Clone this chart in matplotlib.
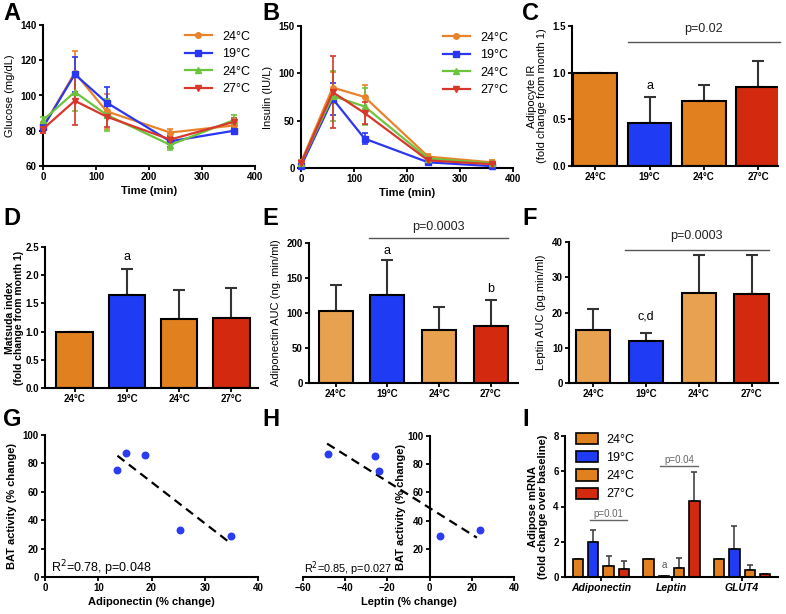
import numpy as np
import matplotlib
matplotlib.use("Agg")
import matplotlib.pyplot as plt
from matplotlib.lines import Line2D

plt.rcParams['font.family'] = ['Liberation Sans', 'DejaVu Sans']

W, H = 786, 614

# ---- data ----
times = [0, 60, 120, 240, 360]
groups = ['24°C', '19°C', '24°C', '27°C']

glu_mean = {
    'o': [82, 113, 91, 79, 83],
    'b': [82, 112, 96, 74, 80],
    'g': [86, 102, 89, 72, 86],
    'r': [81, 97, 88, 75, 85],
}
glu_err = {
    'o': [3, 12, 10, 2, 3],
    'b': [2, 10, 9, 3, 2],
    'g': [2, 11, 9, 3, 3],
    'r': [2, 14, 6, 2, 2],
}
ins_mean = {
    'o': [6, 85, 75, 12, 6],
    'b': [2, 73, 31, 6, 2],
    'g': [5, 76, 65, 10, 5],
    'r': [5, 80, 58, 8, 4],
}
ins_err = {
    'o': [2, 16, 13, 3, 2],
    'b': [1, 17, 6, 2, 1],
    'g': [2, 26, 20, 3, 2],
    'r': [2, 38, 12, 3, 2],
}

ir_vals = [1.0, 0.46, 0.70, 0.85]
ir_err = [0, 0.28, 0.17, 0.27]
matsuda_vals = [1.0, 1.65, 1.22, 1.25]
matsuda_err = [0, 0.46, 0.51, 0.52]
adipo_auc = [103, 126, 76, 81]
adipo_auc_err = [37, 50, 33, 38]
leptin_auc = [15.0, 12.0, 25.6, 25.2]
leptin_auc_err = [6.0, 2.3, 10.7, 11.0]

adipo_pct = [13.6, 15.3, 18.7, 25.3, 35.0]
bat_g = [75.5, 87.3, 85.8, 33.4, 28.8]
leptin_pct = [-48.3, -26.0, -23.8, 5.0, 23.7]
bat_h = [87.3, 85.8, 75.4, 28.8, 33.4]

genes = ['Adiponectin', 'Leptin', 'GLUT4']
mrna = [
    [1.0, 1.0, 1.0],     # 24°C
    [1.98, 0.07, 1.61],  # 19°C
    [0.64, 0.50, 0.42],  # 24°C
    [0.47, 4.31, 0.15],  # 27°C
]
mrna_err = [
    [0, 0, 0],
    [0.70, 0, 1.26],
    [0.55, 0.56, 0.28],
    [0.44, 1.64, 0],
]

# ---- colours ----
LC = {'o': '#E8832C', 'b': '#2A36F2', 'g': '#6DC43C', 'r': '#D8372C'}
ORANGE = '#E0801F'
LORANGE = '#E8A24F'
BLUE = '#1F3CF4'
RED = '#D2290F'
markers = {'o': 'o', 'b': 's', 'g': '^', 'r': 'v'}
line_labels = {'o': '24°C', 'b': '19°C', 'g': '24°C', 'r': '27°C'}

fig = plt.figure(figsize=(W / 100, H / 100), dpi=100)
fig.patch.set_facecolor('white')


def add_ax(l, t, r, b):
    return fig.add_axes([l / W, 1 - b / H, (r - l) / W, (b - t) / H])


def style(ax):
    for s in ['top', 'right']:
        ax.spines[s].set_visible(False)
    for s in ['left', 'bottom']:
        ax.spines[s].set_linewidth(1.5)
    ax.tick_params(width=1.3, length=3, labelsize=7, pad=1.5)
    for lab in ax.get_xticklabels() + ax.get_yticklabels():
        lab.set_fontweight('bold')


def letter(x, y, s):
    fig.text(x / W, 1 - y / H, s, fontsize=17, fontweight='bold', va='top', ha='left')


# ---- A / B line charts ----
def line_panel(ax, means, errs):
    handles = []
    for k in ['o', 'b', 'g', 'r']:
        ax.errorbar(times, means[k], yerr=errs[k], color=LC[k], marker=markers[k],
                    markersize=4, lw=1.6, capsize=2, elinewidth=1.2, capthick=1.2,
                    clip_on=False, zorder=3)
        handles.append(Line2D([], [], color=LC[k], marker=markers[k], markersize=4,
                              lw=1.6, label=line_labels[k]))
    ax.set_xlim(0, 400)
    ax.set_xticks([0, 100, 200, 300, 400])
    ax.set_xlabel('Time (min)', fontsize=8, fontweight='bold', labelpad=3)
    ax.legend(handles=handles, loc='upper right', frameon=False, fontsize=9,
              handlelength=2.2, labelspacing=0.45, bbox_to_anchor=(1.03, 1.04))


axA = add_ax(43, 25, 255, 166)
line_panel(axA, glu_mean, glu_err)
axA.set_ylim(60, 140)
axA.set_yticks([60, 80, 100, 120, 140])
axA.set_ylabel('Glucose (mg/dL)', fontsize=8)
style(axA)

axB = add_ax(301, 26, 513, 168)
line_panel(axB, ins_mean, ins_err)
axB.set_ylim(0, 150)
axB.set_yticks([0, 50, 100, 150])
axB.set_ylabel('Insulin (IU/L)', fontsize=8)
style(axB)


# ---- bar panels ----
def bar_panel(ax, vals, errs, colors, width, xlim):
    x = np.arange(len(vals))
    ax.bar(x, vals, width=width, color=colors, edgecolor='black', linewidth=1.5, zorder=2)
    up = [e if e > 0 else np.nan for e in errs]
    ax.errorbar(x, vals, yerr=[np.zeros(len(vals)), np.nan_to_num(up)], fmt='none',
                ecolor='#333333', elinewidth=1.5, capsize=4.5, capthick=1.5, zorder=1)
    ax.set_xticks(x)
    ax.set_xticklabels(groups)
    ax.set_xlim(*xlim)


def pline(ax, x0, x1, y, ty, text, size=9, color='#555555'):
    ax.plot([x0, x1], [y, y], color=color, lw=1.0, clip_on=False)
    ax.text((x0 + x1) / 2, ty, text, ha='center', va='center', fontsize=size,
            color='#222222' if color == '#555555' else color, clip_on=False)


axC = add_ax(572, 26, 778, 166)
bar_panel(axC, ir_vals, ir_err, [ORANGE, BLUE, ORANGE, RED], 0.81, (-0.43, 3.37))
axC.set_ylim(0, 1.5)
axC.set_yticks([0, 0.5, 1.0, 1.5])
axC.set_yticklabels(['0.0', '0.5', '1.0', '1.5'])
axC.set_ylabel('Adipocyte IR\n(fold change from month 1)', fontsize=8, linespacing=1.0)
axC.text(1, 0.86, 'a', ha='center', va='center', fontsize=9)
pline(axC, 0.6, 3.4, 1.33, 1.47, 'p=0.02')
style(axC)

axD = add_ax(45, 247, 258, 388)
bar_panel(axD, matsuda_vals, matsuda_err, [ORANGE, BLUE, ORANGE, RED], 0.7, (-0.57, 3.51))
axD.set_ylim(0, 2.5)
axD.set_yticks([0, 0.5, 1.0, 1.5, 2.0, 2.5])
axD.set_yticklabels(['0.0', '0.5', '1.0', '1.5', '2.0', '2.5'])
axD.set_ylabel('Matsuda index\n(fold change from month 1)', fontsize=7.5, fontweight='bold',
               linespacing=0.95, labelpad=0.5)
axD.text(1, 2.33, 'a', ha='center', va='center', fontsize=9)
style(axD)

axE = add_ax(309, 243, 518, 383)
bar_panel(axE, adipo_auc, adipo_auc_err, [LORANGE, BLUE, LORANGE, RED], 0.66, (-0.52, 3.53))
axE.set_ylim(0, 200)
axE.set_yticks([0, 50, 100, 150, 200])
axE.set_ylabel('Adiponectin AUC (ng. min/ml)', fontsize=8)
axE.text(1, 189, 'a', ha='center', va='center', fontsize=9)
axE.text(3, 134, 'b', ha='center', va='center', fontsize=9)
pline(axE, 0.65, 3.33, 207, 223, 'p=0.0003')
style(axE)

axF = add_ax(569, 242, 778, 383)
bar_panel(axF, leptin_auc, leptin_auc_err, [LORANGE, BLUE, LORANGE, RED], 0.65, (-0.46, 3.5))
axF.set_ylim(0, 40)
axF.set_yticks([0, 10, 20, 30, 40])
axF.set_ylabel('Leptin AUC (pg.min/ml)', fontsize=8)
axF.text(1, 18.9, 'c,d', ha='center', va='center', fontsize=9)
pline(axF, 0.6, 3.32, 37.8, 41.7, 'p=0.0003')
style(axF)

# ---- scatter panels ----
axG = add_ax(45, 435, 258, 577)
axG.scatter(adipo_pct, bat_g, s=22, color='#2B3BF0', zorder=3)
axG.plot([13.6, 34.7], [85.4, 24.2], ls='--', color='black', lw=1.6, dashes=(4, 2.5))
axG.set_xlim(0, 40)
axG.set_ylim(0, 100)
axG.set_xticks([0, 10, 20, 30, 40])
axG.set_yticks([0, 20, 40, 60, 80, 100])
axG.set_xlabel('Adiponectin (% change)', fontsize=8, fontweight='bold', labelpad=3)
axG.set_ylabel('BAT activity (% change)', fontsize=8, fontweight='bold')
axG.text(1.2, 6, 'R$^2$=0.78, p=0.048', fontsize=9, va='center', ha='left')
style(axG)

axH = add_ax(303, 436, 514, 577)
axH.scatter(leptin_pct, bat_h, s=22, color='#2B3BF0', zorder=3)
axH.plot([-48.6, 22.4], [94.6, 27.9], ls='--', color='black', lw=1.6, dashes=(4, 2.5))
axH.set_xlim(-60, 40)
axH.set_ylim(0, 100)
axH.set_xticks([-60, -40, -20, 0, 20, 40])
axH.set_yticks([20, 40, 60, 80, 100])
axH.spines['left'].set_position(('data', 0))
axH.set_xlabel('Leptin (% change)', fontsize=8, fontweight='bold', labelpad=3)
axH.set_ylabel('BAT activity (% change)', fontsize=8, fontweight='bold', labelpad=1)
axH.text(-59.5, 6, 'R$^2$=0.85, p=0.027', fontsize=7.8, va='center', ha='left')
style(axH)

# ---- I grouped bars ----
axI = add_ax(565, 436, 778, 577)
gx = np.arange(len(genes))
offs = [-0.325, -0.108, 0.108, 0.325]
bw = 0.145
bar_cols = [ORANGE, BLUE, ORANGE, RED]
for i in range(4):
    xs = gx + offs[i]
    axI.bar(xs, mrna[i], width=bw, color=bar_cols[i], edgecolor='black', linewidth=1.2,
            label=groups[i], zorder=2)
    up = np.array(mrna_err[i])
    axI.errorbar(xs, mrna[i], yerr=[np.zeros(3), up], fmt='none', ecolor='#444444',
                 elinewidth=1.2, capsize=2.5, capthick=1.2, zorder=1)
axI.set_xlim(-0.51, 2.51)
axI.set_ylim(0, 8)
axI.set_yticks([0, 2, 4, 6, 8])
axI.set_xticks(gx)
axI.set_xticklabels(genes, fontstyle='italic')
axI.set_ylabel('Adipose mRNA\n(fold change over baseline)', fontsize=8, fontweight='bold',
               linespacing=1.0)
axI.text(1 + offs[1], 0.66, 'a', ha='center', va='center', fontsize=7, color='#555555')
pline(axI, offs[1] - 0.05, offs[3] + 0.05, 3.25, 3.6, 'p=0.01', size=7, color='#666666')
pline(axI, 1 + offs[1] - 0.05, 1 + offs[3] + 0.05, 6.28, 6.65, 'p=0.04', size=7, color='#666666')
axI.legend(loc='upper left', frameon=False, fontsize=9, handlelength=1.7, handleheight=1.0,
           labelspacing=0.42, handletextpad=0.7, bbox_to_anchor=(0.0, 1.1))
style(axI)
for lab in axI.get_xticklabels():
    lab.set_fontsize(7.5)

letter(3, 2, 'A')
letter(262, 2, 'B')
letter(522, 2, 'C')
letter(3, 207, 'D')
letter(262, 207, 'E')
letter(522, 207, 'F')
letter(3, 408, 'G')
letter(262, 408, 'H')
letter(522, 408, 'I')

fig.savefig('out.png', dpi=100)
